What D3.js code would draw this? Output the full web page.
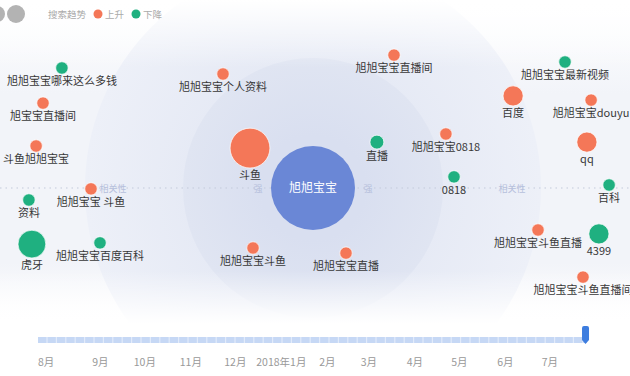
<!DOCTYPE html>
<html>
<head>
<meta charset="utf-8">
<script src="https://cdn.jsdelivr.net/npm/d3@7"></script>
<style>
  body { margin: 0; background: #fff; }
  svg { display: block; font-family: "Noto Sans CJK SC", "Noto Sans", sans-serif; }
</style>
</head>
<body>
<svg id="chart" width="630" height="376"></svg>
<script>
// keyword at the centre
var keyword = "旭旭宝宝"

// related search words
var words = ["旭旭宝宝哪来这么多钱", "旭宝宝直播间", "斗鱼旭旭宝宝", "资料", "虎牙",
             "旭旭宝宝 斗鱼", "旭旭宝宝百度百科", "旭旭宝宝个人资料", "斗鱼", "直播",
             "旭旭宝宝直播间", "旭旭宝宝0818", "0818", "旭旭宝宝斗鱼", "旭旭宝宝直播",
             "旭旭宝宝最新视频", "百度", "旭旭宝宝douyu", "qq", "百科",
             "旭旭宝宝斗鱼直播", "4399", "旭旭宝宝斗鱼直播间"]
// 1 = 上升, 0 = 下降
var trend = [0, 1, 1, 0, 0,
             1, 0, 1, 1, 0,
             1, 1, 0, 1, 1,
             0, 1, 1, 1, 0,
             1, 0, 1]
// search heat (bubble size)
var heat = [8, 8, 8, 8, 40,
            8, 8, 8, 82, 10,
            8, 8, 8, 8, 8,
            8, 21, 8, 21, 8,
            8, 21, 8]
// layout position, horizontal and vertical
var posX = [-83.7, -90, -92.3, -94.7, -93.7,
            -74, -71, -30, -21, 21.3,
            27, 44.3, 47, -20, 11,
            84, 66.7, 92.7, 91.3, 98.7,
            75, 95.3, 90]
var posY = [40, 28.3, 14, -4, -18.7,
            -0.3, -18.3, 38, 13.3, 15.3,
            44.3, 18, 3.7, -20, -21.7,
            42, 30.7, 29.3, 15.3, 1,
            -14, -15.3, -29.7]

// timeline
var months = [new Date(2017, 7, 1), new Date(2017, 8, 1), new Date(2017, 9, 1), new Date(2017, 10, 1),
              new Date(2017, 11, 1), new Date(2018, 0, 1), new Date(2018, 1, 1), new Date(2018, 2, 1),
              new Date(2018, 3, 1), new Date(2018, 4, 1), new Date(2018, 5, 1), new Date(2018, 6, 1)]
var monthLabels = ["8月", "9月", "10月", "11月", "12月", "2018年1月", "2月", "3月", "4月", "5月", "6月", "7月"]
var timeStart = new Date(2017, 6, 21)
var timeEnd = new Date(2018, 6, 26)
var selected = new Date(2018, 6, 25)

var legendItems = ["上升", "下降"]

var W = 630, H = 376
var cx = 313, cy = 188
var ORANGE = "#f47758", GREEN = "#1fb080", BLUE = "#6a87d6"

var svg = d3.select("#chart")
var defs = svg.append("defs")

var bg = defs.append("linearGradient").attr("id", "bg").attr("x1", 0).attr("y1", 0).attr("x2", 0).attr("y2", 1)
bg.append("stop").attr("offset", "0%").attr("stop-color", "#ffffff")
bg.append("stop").attr("offset", "25%").attr("stop-color", "#f2f4f9")
bg.append("stop").attr("offset", "70%").attr("stop-color", "#f2f4f9")
bg.append("stop").attr("offset", "86%").attr("stop-color", "#ffffff")

var outerG = defs.append("radialGradient").attr("id", "outerG")
outerG.append("stop").attr("offset", "55%").attr("stop-color", "#e6eaf5")
outerG.append("stop").attr("offset", "100%").attr("stop-color", "#edf0f8")

var innerG = defs.append("radialGradient").attr("id", "innerG")
innerG.append("stop").attr("offset", "40%").attr("stop-color", "#d9dff0")
innerG.append("stop").attr("offset", "100%").attr("stop-color", "#e0e5f2")

var fade = defs.append("linearGradient").attr("id", "fade").attr("x1", 0).attr("y1", 0).attr("x2", 0).attr("y2", 1)
fade.append("stop").attr("offset", "0%").attr("stop-color", "#fff").attr("stop-opacity", 1)
fade.append("stop").attr("offset", "18%").attr("stop-color", "#fff").attr("stop-opacity", 0)
fade.append("stop").attr("offset", "72%").attr("stop-color", "#fff").attr("stop-opacity", 0)
fade.append("stop").attr("offset", "86%").attr("stop-color", "#fff").attr("stop-opacity", 1)

svg.append("rect").attr("width", W).attr("height", H).attr("fill", "url(#bg)")

// rings of relevance
svg.append("circle").attr("cx", cx).attr("cy", cy).attr("r", 228).attr("fill", "url(#outerG)")
svg.append("circle").attr("cx", cx).attr("cy", cy).attr("r", 130).attr("fill", "url(#innerG)")
svg.append("rect").attr("width", W).attr("height", H).attr("fill", "url(#fade)")

// dotted axis
svg.append("line")
    .attr("x1", 0).attr("x2", W).attr("y1", cy).attr("y2", cy)
    .attr("stroke", "#c3cadb").attr("stroke-width", 1).attr("stroke-dasharray", "1.5,4")

var axisLabels = [[113, "相关性", 9], [512, "相关性", 9], [258, "强", 9], [368, "强", 9]]
axisLabels.forEach(function(a){
    svg.append("text").attr("x", a[0]).attr("y", cy + 3.5)
        .attr("text-anchor", "middle").attr("font-size", a[2])
        .attr("fill", "#b6c0dc").text(a[1])
})

var x = d3.scaleLinear().domain([-100, 100]).range([cx - 300, cx + 300])
var y = d3.scaleLinear().domain([-60, 60]).range([cy + 180, cy - 180])
var r = d3.scaleSqrt().domain([0, 100]).range([0, 22])

var nodes = words.map(function(w, i){
    return {name: w, up: trend[i], heat: heat[i], x: posX[i], y: posY[i]}
})

var g = svg.selectAll(".node").data(nodes).join("g").attr("class", "node")

g.append("circle")
    .attr("cx", d => x(d.x))
    .attr("cy", d => y(d.y))
    .attr("r", d => r(d.heat))
    .attr("fill", d => d.up ? ORANGE : GREEN)
    .attr("stroke", "#fff").attr("stroke-opacity", 0.7).attr("stroke-width", 1)

g.append("text")
    .attr("x", d => x(d.x))
    .attr("y", d => y(d.y) + r(d.heat) + 11)
    .attr("text-anchor", "middle")
    .attr("font-size", 11)
    .attr("fill", "#383838")
    .text(d => d.name)

// the keyword
svg.append("circle").attr("cx", cx).attr("cy", cy).attr("r", 42).attr("fill", BLUE)
svg.append("text").attr("x", cx).attr("y", cy + 4)
    .attr("text-anchor", "middle").attr("font-size", 12).attr("fill", "#fff").text(keyword)

// legend
svg.append("circle").attr("cx", -3).attr("cy", 14).attr("r", 8).attr("fill", "#b3b3b3")
svg.append("circle").attr("cx", 16).attr("cy", 14).attr("r", 9).attr("fill", "#b3b3b3")
svg.append("text").attr("x", 48).attr("y", 18).attr("font-size", 9.5).attr("fill", "#aaa").text("搜索趋势")
var lg = svg.selectAll(".leg").data(legendItems).join("g").attr("class", "leg")
    .attr("transform", (d, i) => "translate(" + (98 + i * 38) + ",14)")
lg.append("circle").attr("r", 4.5).attr("fill", (d, i) => i == 0 ? ORANGE : GREEN)
lg.append("text").attr("x", 7).attr("y", 4).attr("font-size", 9.5).attr("fill", "#aaa").text(d => d)

// timeline
var t = d3.scaleTime().domain([timeStart, timeEnd]).range([38, 587])
var bar = svg.append("g")
bar.append("rect").attr("x", t(timeStart)).attr("y", 337).attr("width", t(timeEnd) - t(timeStart)).attr("height", 6)
    .attr("fill", "#c6d8f5")
bar.selectAll(".seg").data(d3.range(t(timeStart) + 9, t(timeEnd), 9.4)).join("line")
    .attr("x1", d => d).attr("x2", d => d).attr("y1", 337).attr("y2", 343)
    .attr("stroke", "#e2ebfa").attr("stroke-width", 1.2)

var hx = t(selected)
svg.append("path")
    .attr("d", "M" + (hx - 3.5) + ",328 q0,-2 2,-2 h3 q2,0 2,2 v12 l-3.5,4 l-3.5,-4 z")
    .attr("fill", "#3d7ddf")

svg.selectAll(".month").data(months).join("text")
    .attr("class", "month")
    .attr("x", (d, i) => i == 0 ? t.range()[0] : t(d))
    .attr("y", 366)
    .attr("text-anchor", (d, i) => i == 0 ? "start" : "middle")
    .attr("font-size", 10.5)
    .attr("fill", "#999")
    .text((d, i) => monthLabels[i])
</script>
</body>
</html>
